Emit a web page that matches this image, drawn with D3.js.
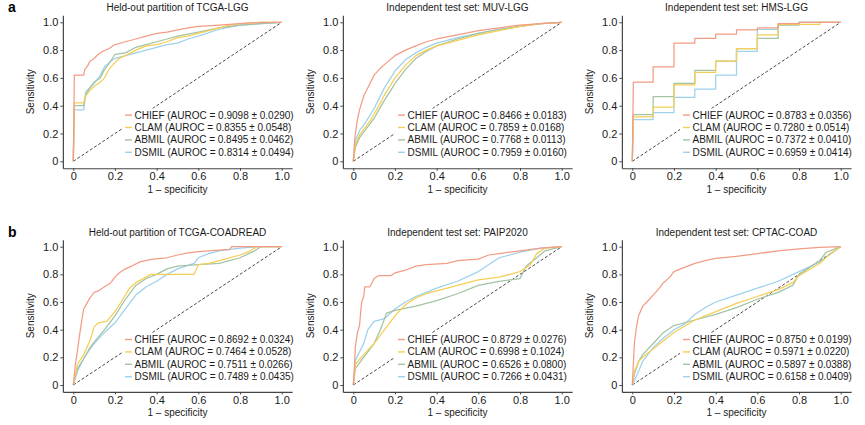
<!DOCTYPE html>
<html>
<head>
<meta charset="utf-8">
<script src="https://cdn.jsdelivr.net/npm/d3@7"></script>
<style>
  html, body { margin: 0; padding: 0; background: #fff; }
  svg { display: block; font-family: "Liberation Sans", Arial, Helvetica, sans-serif; }
</style>
</head>
<body>
<svg id="chart" width="865" height="425"></svg>
<script>
// ---------------- DATA ----------------
const models = ["CHIEF", "CLAM", "ABMIL", "DSMIL"];
const panelTitles = [
  "Held-out partition of TCGA-LGG", "Independent test set: MUV-LGG", "Independent test set: HMS-LGG",
  "Held-out partition of TCGA-COADREAD", "Independent test set: PAIP2020", "Independent test set: CPTAC-COAD"
];
const panelLetters = ["a", "b"];
const xTicks = [0, 0.2, 0.4, 0.6, 0.8, 1.0];
const yTicks = [0, 0.2, 0.4, 0.6, 0.8, 1.0];

// AUROC legend labels per panel (CHIEF, CLAM, ABMIL, DSMIL)
const aurocTcgaLgg = ["0.9098 ± 0.0290", "0.8355 ± 0.0548", "0.8495 ± 0.0462", "0.8314 ± 0.0494"];
const aurocMuvLgg = ["0.8466 ± 0.0183", "0.7859 ± 0.0168", "0.7768 ± 0.0113", "0.7959 ± 0.0160"];
const aurocHmsLgg = ["0.8783 ± 0.0356", "0.7280 ± 0.0514", "0.7372 ± 0.0410", "0.6959 ± 0.0414"];
const aurocTcgaCoad = ["0.8692 ± 0.0324", "0.7464 ± 0.0528", "0.7511 ± 0.0266", "0.7489 ± 0.0435"];
const aurocPaip = ["0.8729 ± 0.0276", "0.6998 ± 0.1024", "0.6526 ± 0.0800", "0.7266 ± 0.0431"];
const aurocCptac = ["0.8750 ± 0.0199", "0.5971 ± 0.0220", "0.5897 ± 0.0388", "0.6158 ± 0.0409"];

// ROC curves [1 - specificity, sensitivity]
const tcgaLggChief = [[0,0],[0.005,0.62],[0.05,0.62],[0.055,0.66],[0.07,0.69],[0.08,0.72],[0.1,0.74],[0.12,0.77],[0.14,0.79],[0.17,0.81],[0.2,0.84],[0.25,0.86],[0.3,0.88],[0.35,0.9],[0.4,0.92],[0.45,0.93],[0.5,0.945],[0.55,0.96],[0.6,0.97],[0.7,0.98],[0.8,0.99],[0.9,1],[1,1]];
const tcgaLggClam = [[0,0],[0.005,0.42],[0.05,0.42],[0.06,0.47],[0.08,0.51],[0.1,0.54],[0.13,0.57],[0.15,0.6],[0.17,0.66],[0.2,0.71],[0.22,0.74],[0.25,0.76],[0.3,0.8],[0.35,0.83],[0.4,0.84],[0.45,0.86],[0.5,0.89],[0.55,0.9],[0.6,0.92],[0.7,0.96],[0.75,0.98],[0.8,0.99],[0.9,1],[1,1]];
const tcgaLggAbmil = [[0,0],[0.005,0.40],[0.05,0.40],[0.06,0.48],[0.08,0.53],[0.1,0.57],[0.13,0.6],[0.15,0.66],[0.17,0.7],[0.2,0.77],[0.25,0.78],[0.3,0.82],[0.35,0.84],[0.4,0.86],[0.45,0.88],[0.5,0.9],[0.6,0.93],[0.7,0.96],[0.8,0.98],[0.9,0.99],[1,1]];
const tcgaLggDsmil = [[0,0],[0.005,0.37],[0.05,0.37],[0.06,0.5],[0.08,0.53],[0.1,0.56],[0.13,0.62],[0.15,0.68],[0.18,0.72],[0.2,0.74],[0.25,0.76],[0.3,0.78],[0.35,0.8],[0.4,0.82],[0.45,0.84],[0.5,0.85],[0.55,0.88],[0.6,0.9],[0.7,0.95],[0.8,0.98],[0.9,0.99],[1,1]];

const muvLggChief = [[0,0],[0.005,0.12],[0.01,0.2],[0.02,0.3],[0.03,0.37],[0.05,0.47],[0.08,0.56],[0.1,0.62],[0.13,0.67],[0.16,0.71],[0.2,0.76],[0.25,0.8],[0.3,0.83],[0.35,0.86],[0.4,0.88],[0.5,0.91],[0.6,0.94],[0.7,0.96],[0.8,0.98],[0.9,0.99],[1,1]];
const muvLggClam = [[0,0],[0.01,0.12],[0.03,0.19],[0.05,0.23],[0.08,0.29],[0.1,0.34],[0.13,0.42],[0.15,0.48],[0.18,0.55],[0.2,0.6],[0.25,0.69],[0.3,0.76],[0.35,0.8],[0.4,0.83],[0.5,0.87],[0.6,0.91],[0.7,0.94],[0.8,0.97],[0.9,0.99],[1,1]];
const muvLggAbmil = [[0,0],[0.01,0.1],[0.03,0.17],[0.05,0.21],[0.08,0.27],[0.1,0.31],[0.13,0.39],[0.15,0.44],[0.18,0.51],[0.2,0.56],[0.25,0.66],[0.3,0.74],[0.35,0.79],[0.4,0.83],[0.5,0.88],[0.6,0.92],[0.7,0.95],[0.8,0.97],[0.9,0.99],[1,1]];
const muvLggDsmil = [[0,0],[0.01,0.15],[0.03,0.22],[0.05,0.26],[0.08,0.33],[0.1,0.38],[0.12,0.44],[0.15,0.53],[0.18,0.6],[0.2,0.65],[0.25,0.73],[0.3,0.78],[0.35,0.82],[0.4,0.85],[0.5,0.89],[0.6,0.92],[0.7,0.95],[0.8,0.97],[0.9,0.99],[1,1]];

const hmsLggChief = [[0,0],[0.005,0.57],[0.1,0.57],[0.1,0.68],[0.2,0.68],[0.2,0.85],[0.3,0.85],[0.3,0.885],[0.4,0.885],[0.4,0.915],[0.5,0.915],[0.5,0.945],[0.6,0.945],[0.6,0.96],[0.7,0.96],[0.7,0.99],[0.8,0.99],[0.8,1],[1,1]];
const hmsLggClam = [[0,0],[0.005,0.32],[0.1,0.32],[0.1,0.39],[0.2,0.39],[0.2,0.55],[0.3,0.55],[0.3,0.64],[0.4,0.64],[0.4,0.72],[0.5,0.72],[0.5,0.81],[0.6,0.81],[0.6,0.91],[0.7,0.91],[0.7,0.985],[0.9,0.985],[0.9,1],[1,1]];
const hmsLggAbmil = [[0,0],[0.005,0.335],[0.1,0.335],[0.1,0.465],[0.2,0.465],[0.2,0.56],[0.3,0.56],[0.3,0.655],[0.4,0.655],[0.4,0.72],[0.5,0.72],[0.5,0.81],[0.6,0.81],[0.6,0.885],[0.7,0.885],[0.7,0.98],[0.8,0.98],[0.8,1],[1,1]];
const hmsLggDsmil = [[0,0],[0.005,0.3],[0.1,0.3],[0.1,0.35],[0.2,0.35],[0.2,0.46],[0.3,0.46],[0.3,0.52],[0.4,0.52],[0.4,0.62],[0.5,0.62],[0.5,0.79],[0.6,0.79],[0.6,0.95],[0.7,0.95],[0.7,0.99],[0.8,0.99],[0.8,1],[1,1]];

const tcgaCoadChief = [[0,0],[0.01,0.15],[0.02,0.25],[0.03,0.36],[0.04,0.46],[0.05,0.55],[0.065,0.59],[0.08,0.63],[0.1,0.67],[0.12,0.68],[0.15,0.71],[0.18,0.74],[0.2,0.78],[0.22,0.81],[0.25,0.84],[0.28,0.86],[0.32,0.89],[0.38,0.91],[0.45,0.92],[0.5,0.94],[0.55,0.955],[0.6,0.965],[0.65,0.97],[0.75,0.98],[0.76,1],[1,1]];
const tcgaCoadClam = [[0,0],[0.02,0.15],[0.05,0.22],[0.08,0.32],[0.1,0.42],[0.12,0.45],[0.16,0.46],[0.2,0.53],[0.23,0.6],[0.27,0.7],[0.3,0.74],[0.35,0.78],[0.37,0.8],[0.58,0.8],[0.6,0.87],[0.65,0.88],[0.7,0.9],[0.8,0.94],[0.85,0.97],[0.88,1],[1,1]];
const tcgaCoadAbmil = [[0,0],[0.02,0.12],[0.05,0.19],[0.08,0.27],[0.1,0.31],[0.15,0.4],[0.2,0.5],[0.25,0.62],[0.3,0.72],[0.35,0.77],[0.4,0.8],[0.45,0.84],[0.5,0.86],[0.6,0.87],[0.7,0.88],[0.8,0.92],[0.87,0.97],[0.9,1],[1,1]];
const tcgaCoadDsmil = [[0,0],[0.02,0.1],[0.05,0.19],[0.08,0.26],[0.1,0.3],[0.15,0.38],[0.2,0.45],[0.25,0.55],[0.3,0.65],[0.35,0.71],[0.4,0.75],[0.45,0.8],[0.5,0.84],[0.58,0.88],[0.6,0.92],[0.65,0.95],[0.7,0.97],[0.8,0.99],[0.88,1],[1,1]];

const paipChief = [[0,0],[0.005,0.12],[0.01,0.28],[0.02,0.38],[0.03,0.43],[0.035,0.52],[0.04,0.6],[0.05,0.64],[0.055,0.71],[0.08,0.71],[0.1,0.77],[0.12,0.79],[0.18,0.79],[0.2,0.81],[0.25,0.83],[0.3,0.86],[0.35,0.87],[0.45,0.88],[0.5,0.9],[0.6,0.91],[0.65,0.94],[0.7,0.95],[0.8,0.97],[0.9,0.99],[1,1]];
const paipClam = [[0,0],[0.01,0.15],[0.05,0.22],[0.1,0.3],[0.15,0.4],[0.2,0.5],[0.25,0.58],[0.3,0.63],[0.35,0.66],[0.4,0.68],[0.5,0.72],[0.6,0.76],[0.7,0.78],[0.8,0.82],[0.85,0.87],[0.88,0.95],[0.92,0.99],[1,1]];
const paipAbmil = [[0,0],[0.01,0.12],[0.05,0.2],[0.1,0.3],[0.13,0.4],[0.16,0.52],[0.2,0.54],[0.3,0.57],[0.4,0.61],[0.5,0.66],[0.6,0.72],[0.7,0.75],[0.8,0.77],[0.83,0.86],[0.88,0.92],[0.92,0.97],[1,1]];
const paipDsmil = [[0,0],[0.01,0.18],[0.05,0.3],[0.07,0.4],[0.1,0.46],[0.15,0.48],[0.2,0.55],[0.25,0.6],[0.3,0.64],[0.35,0.67],[0.4,0.7],[0.5,0.75],[0.6,0.82],[0.7,0.92],[0.8,0.96],[0.9,0.99],[1,1]];

const cptacChief = [[0,0],[0.005,0.15],[0.01,0.3],[0.02,0.42],[0.03,0.5],[0.05,0.57],[0.07,0.6],[0.1,0.65],[0.13,0.7],[0.15,0.74],[0.18,0.78],[0.2,0.82],[0.25,0.85],[0.3,0.88],[0.35,0.9],[0.4,0.915],[0.5,0.93],[0.6,0.95],[0.7,0.97],[0.8,0.985],[0.9,0.995],[1,1]];
const cptacClam = [[0,0],[0.01,0.1],[0.03,0.17],[0.05,0.2],[0.1,0.26],[0.15,0.32],[0.2,0.38],[0.3,0.47],[0.4,0.53],[0.5,0.59],[0.6,0.64],[0.7,0.69],[0.77,0.74],[0.8,0.79],[0.9,0.88],[0.95,0.95],[1,1]];
const cptacAbmil = [[0,0],[0.01,0.08],[0.03,0.17],[0.05,0.22],[0.1,0.3],[0.15,0.38],[0.2,0.43],[0.25,0.45],[0.3,0.47],[0.4,0.51],[0.5,0.56],[0.6,0.62],[0.7,0.67],[0.77,0.72],[0.8,0.8],[0.9,0.9],[0.93,0.96],[1,1]];
const cptacDsmil = [[0,0],[0.01,0.03],[0.03,0.1],[0.05,0.17],[0.1,0.27],[0.15,0.34],[0.2,0.4],[0.25,0.44],[0.3,0.51],[0.35,0.56],[0.4,0.6],[0.5,0.65],[0.6,0.7],[0.7,0.75],[0.8,0.82],[0.9,0.89],[1,1]];

// ---------------- LAYOUT / STYLE ----------------
const colors = { CHIEF: "#F39C85", CLAM: "#F5CE55", ABMIL: "#A3C3A2", DSMIL: "#9DD1EC" };
const panels = [
  { title: panelTitles[0], curves: [tcgaLggChief, tcgaLggClam, tcgaLggAbmil, tcgaLggDsmil], auroc: aurocTcgaLgg },
  { title: panelTitles[1], curves: [muvLggChief, muvLggClam, muvLggAbmil, muvLggDsmil], auroc: aurocMuvLgg },
  { title: panelTitles[2], curves: [hmsLggChief, hmsLggClam, hmsLggAbmil, hmsLggDsmil], auroc: aurocHmsLgg },
  { title: panelTitles[3], curves: [tcgaCoadChief, tcgaCoadClam, tcgaCoadAbmil, tcgaCoadDsmil], auroc: aurocTcgaCoad },
  { title: panelTitles[4], curves: [paipChief, paipClam, paipAbmil, paipDsmil], auroc: aurocPaip },
  { title: panelTitles[5], curves: [cptacChief, cptacClam, cptacAbmil, cptacDsmil], auroc: aurocCptac }
];
const colX0 = [73.3, 353.3, 632.3];
const plotW = 208.4;
const rowY1 = [22.3, 246.7];
const rowY0 = [161.3, 385.0];
const legendX = [125, 398, 683];

const svg = d3.select("#chart");

panels.forEach((p, i) => {
  const col = i % 3, row = Math.floor(i / 3);
  const x0 = colX0[col], x1 = x0 + plotW;
  const yTop = rowY1[row], yBot = rowY0[row];
  const ex = plotW * 0.05, ey = (yBot - yTop) * 0.05;

  const x = d3.scaleLinear().domain([-0.05, 1.05]).range([x0 - ex, x1 + ex]);
  const y = d3.scaleLinear().domain([-0.05, 1.05]).range([yBot + ey, yTop - ey]);

  const g = svg.append("g");

  // axes
  const xAxis = d3.axisBottom(x).tickValues(xTicks).tickSize(2.5).tickPadding(1.5).tickSizeOuter(0)
    .tickFormat(d => d === 0 ? "0" : d3.format(".1f")(d));
  const yAxis = d3.axisLeft(y).tickValues(yTicks).tickSize(2.5).tickPadding(2).tickSizeOuter(0)
    .tickFormat(d => d === 0 ? "0" : d3.format(".1f")(d));

  const gx = g.append("g").attr("transform", `translate(0,${y(-0.05)})`).call(xAxis);
  const gy = g.append("g").attr("transform", `translate(${x(-0.05)},0)`).call(yAxis);
  [gx, gy].forEach(a => {
    a.select(".domain").attr("stroke", "#444").attr("stroke-width", 1.2);
    a.selectAll(".tick line").attr("stroke", "#444").attr("stroke-width", 1);
    a.selectAll(".tick text").attr("fill", "#1a1a1a").style("font-size", "11px")
      .style("font-family", '"Liberation Sans", Arial, sans-serif');
  });

  // diagonal
  g.append("line")
    .attr("x1", x(0)).attr("y1", y(0)).attr("x2", x(1)).attr("y2", y(1))
    .attr("stroke", "#333").attr("stroke-width", 0.9).attr("stroke-dasharray", "3,2");

  // curves
  const line = d3.line().x(d => x(d[0])).y(d => y(d[1]));
  for (let k = models.length - 1; k >= 0; k--) {
    g.append("path").datum(p.curves[k])
      .attr("d", line).attr("fill", "none")
      .attr("stroke", colors[models[k]]).attr("stroke-width", 1.25)
      .attr("stroke-linejoin", "round");
  }

  // legend
  const lx = legendX[col];
  const ly0 = yTop + 92.8, dy = 12.4;
  const lg = g.append("g");
  const bg = lg.append("rect").attr("fill", "#fff");
  const texts = [];
  models.forEach((m, k) => {
    const yy = ly0 + k * dy;
    lg.append("line").attr("x1", lx).attr("x2", lx + 7).attr("y1", yy).attr("y2", yy)
      .attr("stroke", colors[m]).attr("stroke-width", 1.4);
    const t = lg.append("text").attr("x", lx + 9.5).attr("y", yy).attr("dy", "0.35em")
      .attr("fill", "#1a1a1a").style("font-size", "10px")
      .text(`${m} (AUROC = ${p.auroc[k]})`);
    texts.push(t);
  });
  const maxW = d3.max(texts, t => t.node().getComputedTextLength());
  bg.attr("x", lx - 3).attr("y", ly0 - 6.5).attr("width", maxW + 14).attr("height", dy * 3 + 13);

  // title
  g.append("text").attr("x", (x0 + x1) / 2).attr("y", yTop - 11).attr("text-anchor", "middle")
    .attr("fill", "#1a1a1a").style("font-size", "10px").text(p.title);

  // axis titles
  g.append("text").attr("x", (x0 + x1) / 2).attr("y", y(-0.05) + 24.5).attr("text-anchor", "middle")
    .attr("fill", "#1a1a1a").style("font-size", "10px").text("1 – specificity");
  g.append("text")
    .attr("transform", `translate(${x(-0.05) - 28.5},${(yTop + yBot) / 2}) rotate(-90)`)
    .attr("text-anchor", "middle").attr("fill", "#1a1a1a").style("font-size", "10px").text("Sensitivity");
});

// panel letters
panelLetters.forEach((l, r) => {
  svg.append("text").attr("x", 8).attr("y", rowY1[r] - 10).attr("fill", "#000")
    .style("font-size", "14px").style("font-weight", "bold").text(l);
});
</script>
</body>
</html>
